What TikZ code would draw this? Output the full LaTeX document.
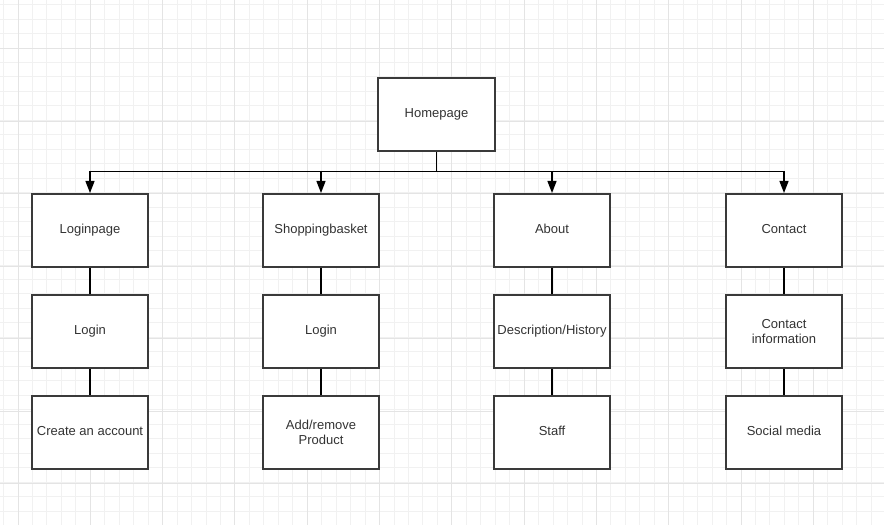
\documentclass[tikz,border=0pt]{standalone}
\usepackage{fontspec}
\setmainfont{Liberation Sans}
\usetikzlibrary{arrows.meta}
\definecolor{boxline}{HTML}{3A3A3A}
\definecolor{txt}{HTML}{333333}
\definecolor{gridminor}{HTML}{F1F1F1}
\definecolor{gridmajor}{HTML}{E4E4E4}
\tikzset{
  pagebox/.style={draw=boxline, line width=2bp, fill=white, minimum width=116bp, minimum height=73bp,
    inner sep=1bp, align=center, text=txt, font=\fontsize{13bp}{15bp}\selectfont},
  oneline/.style={text height=9.5bp, text depth=4.2bp},
  link/.style={draw=black, line width=1.3bp},
  arrowlink/.style={link, -{Triangle[length=12bp,width=9bp]}},
}
\begin{document}
\begin{tikzpicture}[x=1bp,y=-1bp]
\useasboundingbox (0,0) rectangle (884,525);
\fill[white] (0,0) rectangle (884,525);
% grid
\foreach \i in {0,...,61} {
  \draw[gridminor, line width=1bp] ({3.6+14.46*\i},0) -- ({3.6+14.46*\i},525);
}
\foreach \i in {0,...,36} {
  \draw[gridminor, line width=1bp] (0,{4.6+14.47*\i}) -- (884,{4.6+14.47*\i});
}
\foreach \i in {0,...,12} {
  \draw[gridmajor, line width=1bp] ({18+72.3*\i},0) -- ({18+72.3*\i},525);
}
\foreach \i in {0,...,7} {
  \draw[gridmajor, line width=1bp] (0,{49+72.4*\i}) -- (884,{49+72.4*\i});
}
% nodes
\node[pagebox, oneline, minimum width=117bp] (home) at (436.5,114.5) {Homepage};
\node[pagebox, oneline] (loginpage) at (90,230.5) {Loginpage};
\node[pagebox, oneline] (basket) at (321,230.5) {Shoppingbasket};
\node[pagebox, oneline] (about) at (552,230.5) {About};
\node[pagebox, oneline] (contact) at (784,230.5) {Contact};
\node[pagebox, oneline] (login1) at (90,331.5) {Login};
\node[pagebox, oneline] (login2) at (321,331.5) {Login};
\node[pagebox, oneline] (desc) at (552,331.5) {Description/History};
\node[pagebox] (cinfo) at (784,331.5) {Contact\\information};
\node[pagebox, oneline] (account) at (90,432.5) {Create an account};
\node[pagebox] (addremove) at (321,432.5) {Add/remove\\Product};
\node[pagebox, oneline] (staff) at (552,432.5) {Staff};
\node[pagebox, oneline] (social) at (784,432.5) {Social media};
% connectors
\coordinate (bus) at (436.5,171.5);
\draw[link] (home.south) -- (bus);
\foreach \t in {loginpage,basket,about,contact} {
  \draw[arrowlink] (bus) -| (\t.north);
}
\draw[link] (loginpage) -- (login1);
\draw[link] (login1) -- (account);
\draw[link] (basket) -- (login2);
\draw[link] (login2) -- (addremove);
\draw[link] (about) -- (desc);
\draw[link] (desc) -- (staff);
\draw[link] (contact) -- (cinfo);
\draw[link] (cinfo) -- (social);
\end{tikzpicture}
\end{document}
